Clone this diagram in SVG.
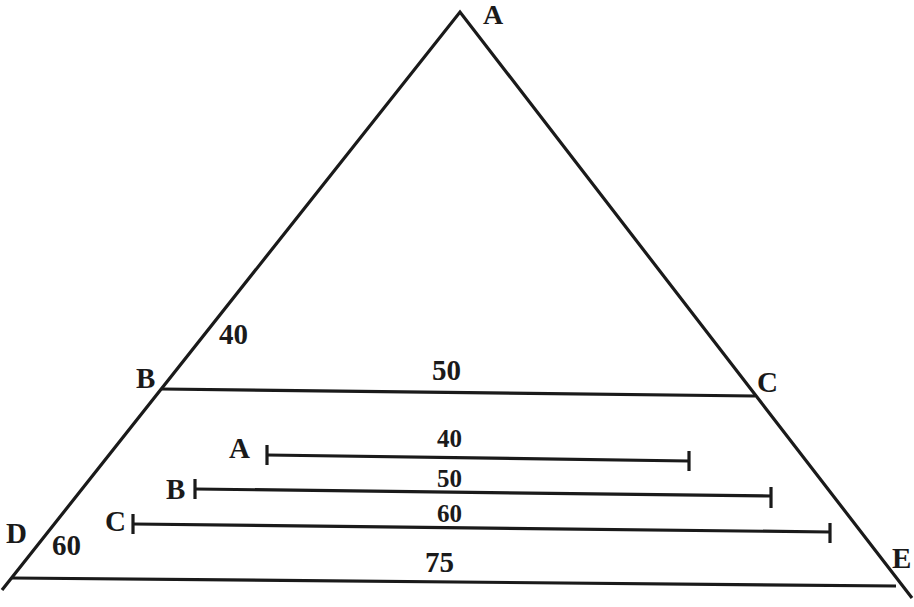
<svg xmlns="http://www.w3.org/2000/svg" width="914" height="607" viewBox="0 0 914 607">
<style>
.ln{stroke:#1a1a1a;stroke-width:3.2;fill:none;stroke-linecap:butt}
.t{font-family:"Liberation Serif","Times New Roman",serif;font-weight:bold;fill:#1a1a1a}
.big{font-size:29px}
.sm{font-size:25px}
</style>
<rect width="914" height="607" fill="#fff"/>
<g id="triangle">
<polyline class="ln" points="2,590 460,12 912,598"/>
<line class="ln" x1="162" y1="389" x2="755" y2="396"/>
<line class="ln" x1="12" y1="578" x2="896" y2="586"/>
</g>
<g id="segments">
<g id="seg-A">
<line class="ln" x1="267" y1="455" x2="689" y2="461"/>
<line class="ln" x1="267" y1="445" x2="267" y2="465"/>
<line class="ln" x1="689" y1="451" x2="689" y2="471"/>
</g>
<g id="seg-B">
<line class="ln" x1="195" y1="489" x2="771" y2="496"/>
<line class="ln" x1="195" y1="479" x2="195" y2="499"/>
<line class="ln" x1="771" y1="487" x2="771" y2="508"/>
</g>
<g id="seg-C">
<line class="ln" x1="133" y1="524" x2="830" y2="532"/>
<line class="ln" x1="133" y1="514" x2="133" y2="534"/>
<line class="ln" x1="830" y1="523" x2="830" y2="543"/>
</g>
</g>
<g id="labels">
<text class="t" style="font-size:28px" x="483" y="24">A</text>
<text class="t big" x="219" y="344">40</text>
<text class="t big" x="136" y="388">B</text>
<text class="t big" x="432" y="380">50</text>
<text class="t big" x="757" y="392">C</text>
<text class="t big" x="229" y="458">A</text>
<text class="t sm" x="437" y="447">40</text>
<text class="t big" x="166" y="499">B</text>
<text class="t sm" x="437" y="487">50</text>
<text class="t big" x="105" y="531">C</text>
<text class="t sm" x="437" y="522">60</text>
<text class="t big" x="6" y="543">D</text>
<text class="t big" x="52" y="555">60</text>
<text class="t big" x="425" y="572">75</text>
<text class="t big" x="892" y="568">E</text>
</g>
</svg>
